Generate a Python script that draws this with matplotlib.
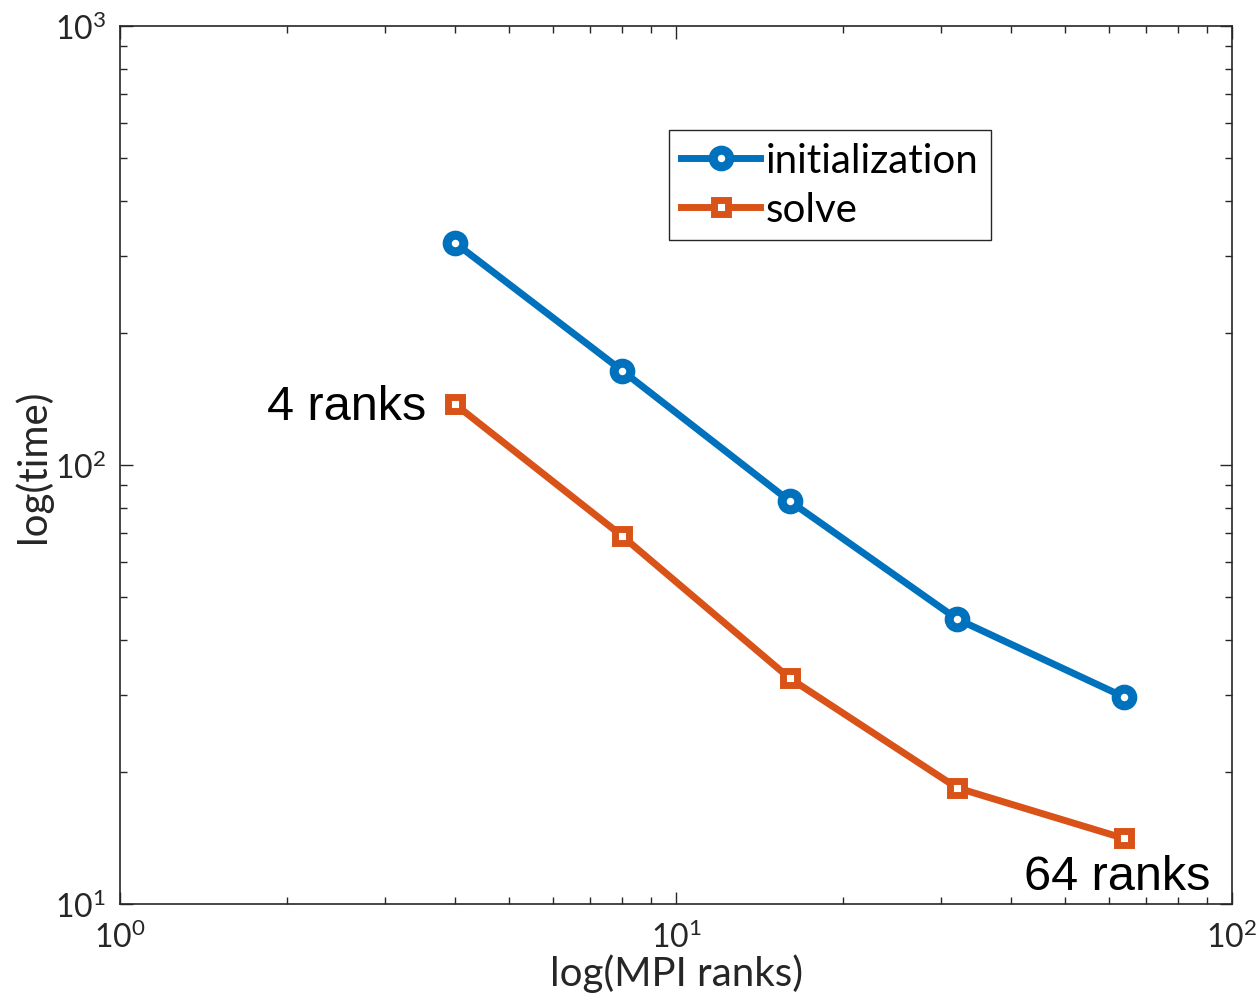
import matplotlib
matplotlib.use("Agg")
import matplotlib.pyplot as plt
from matplotlib.ticker import LogLocator, NullFormatter

# data
ranks = [4, 8, 16, 32, 64]
t_init = [321, 164, 82.8, 44.6, 29.6]
t_solve = [137.7, 68.9, 32.7, 18.4, 14.1]

BLUE = "#0072BD"
ORANGE = "#D95319"
plt.rcParams["font.family"] = ["Lato", "DejaVu Sans"]

fig = plt.figure(figsize=(12.59, 10.03), dpi=100)
ax = fig.add_axes([0.0953, 0.0977, 0.8833, 0.8754])

ax.plot(ranks, t_init, "-o", c=BLUE, lw=5, ms=12, mfc="white", mec=BLUE, mew=6.5,
        label="initialization")
ax.plot(ranks, t_solve, "-s", c=ORANGE, lw=5, ms=10, mfc="white", mec=ORANGE, mew=5,
        label="solve")

ax.set_xscale("log"); ax.set_yscale("log")
ax.set_xlim(1, 100); ax.set_ylim(10, 1000)
ax.xaxis.set_major_locator(LogLocator(base=10, numticks=5))
ax.yaxis.set_major_locator(LogLocator(base=10, numticks=5))
ax.xaxis.set_minor_locator(LogLocator(base=10, subs=range(2, 10), numticks=20))
ax.yaxis.set_minor_locator(LogLocator(base=10, subs=range(2, 10), numticks=20))
ax.xaxis.set_minor_formatter(NullFormatter()); ax.yaxis.set_minor_formatter(NullFormatter())
ax.tick_params(which="both", direction="in", top=True, right=True, colors="#262626",
               labelsize=23, width=1)
ax.tick_params(which="major", length=9)
ax.tick_params(which="minor", length=5)
ax.tick_params(axis="x", pad=12)
ax.tick_params(axis="y", pad=10)
for s in ax.spines.values():
    s.set_color("#262626"); s.set_linewidth(1.2)

ax.set_xlabel("log(MPI ranks)", fontsize=29, color="#262626", labelpad=0)
ax.set_ylabel("log(time)", fontsize=29, color="#262626", labelpad=2)

leg = ax.legend(loc="upper left", bbox_to_anchor=(0.494, 0.882), fontsize=29,
                handlelength=1.95, handletextpad=0.15, borderpad=0.3, labelspacing=0.3,
                fancybox=False, edgecolor="#262626", framealpha=1, borderaxespad=0)
leg.get_frame().set_linewidth(1.0)

ax.text(3.55, t_solve[0] * 0.985, "4 ranks", ha="right", va="center", fontsize=35,
        family="Liberation Sans")
ax.text(91.5, 10.25, "64 ranks", ha="right", va="bottom", fontsize=35,
        family="Liberation Sans")

fig.savefig("out.png", dpi=100)
